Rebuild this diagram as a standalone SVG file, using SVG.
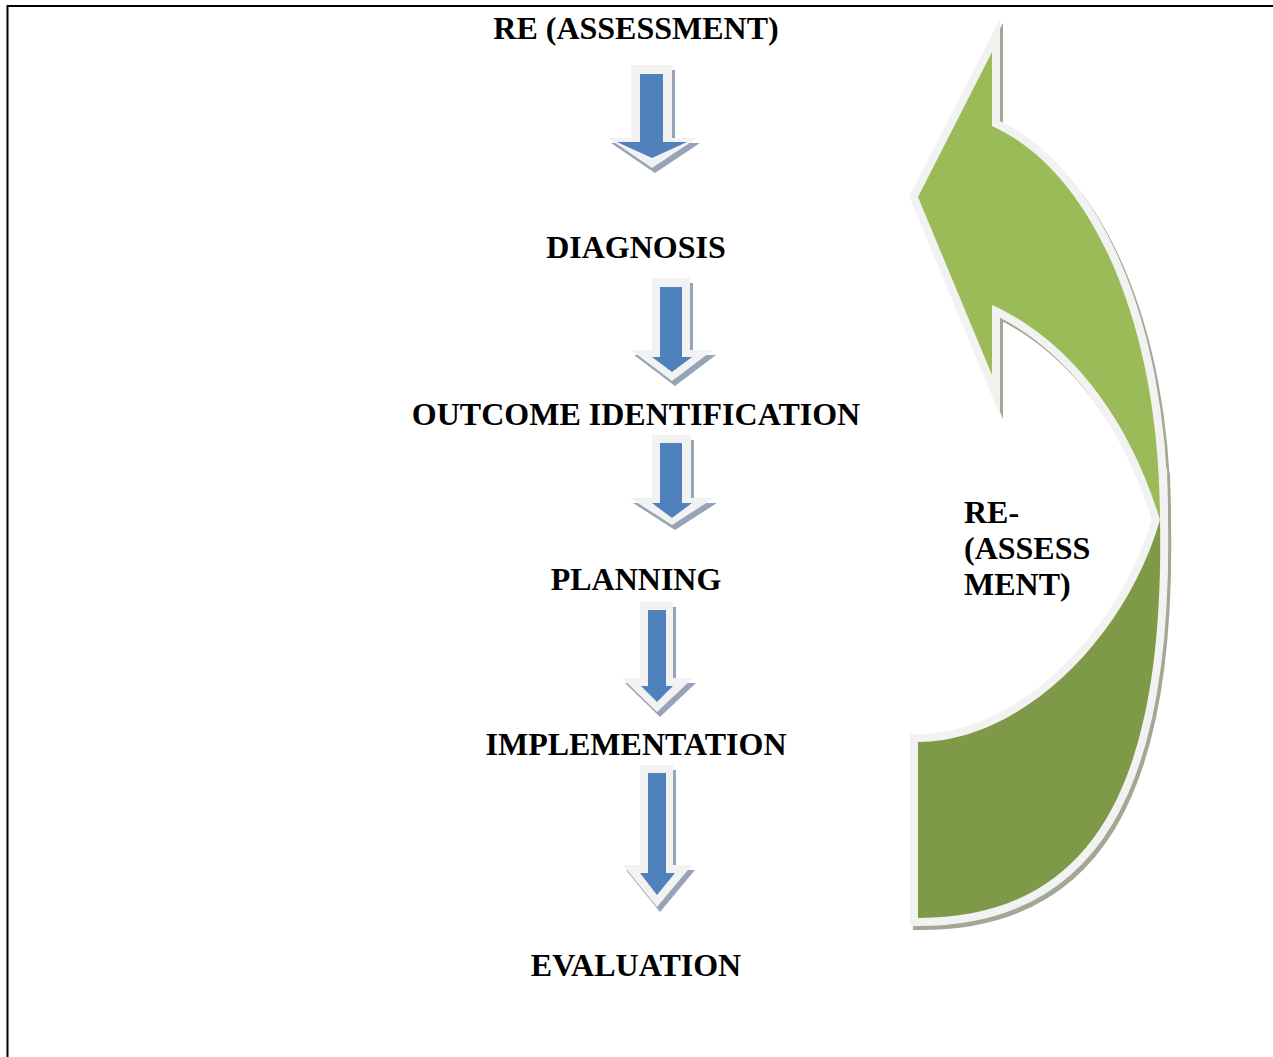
<svg xmlns="http://www.w3.org/2000/svg" width="1273" height="1057" viewBox="0 0 1273 1057">
  <style>
    .lbl { font-family: "Liberation Serif", "Times New Roman", serif; font-weight: bold; font-size: 32px; fill: #000; }
    .c { text-anchor: middle; }
    .shadow { fill: #97a3b6; }
    .rim { fill: #f2f2f2; }
    .blue { fill: #4f81bd; }
    .gshadow { fill: #a2a894; stroke: #a2a894; stroke-width: 16; stroke-linejoin: miter; stroke-miterlimit: 10; }
    .grim { fill: #f2f2f2; stroke: #f2f2f2; stroke-width: 16; stroke-linejoin: miter; stroke-miterlimit: 10; }
  </style>
  <rect width="1273" height="1057" fill="#ffffff"/>
  <path d="M7.5,1057 V6 H1273" fill="none" stroke="#000" stroke-width="2"/>

  <g id="connectors">
    <g id="arrow-1">
      <polygon class="shadow" transform="translate(3,5)" points="631,65 672,65 672,138 697,138 652,168 608,138 631,138"/>
      <polygon class="rim" points="631,65 672,65 672,138 697,138 652,168 608,138 631,138"/>
      <polygon class="blue" points="640,74 663,74 663,142 687,142 652,158 617,142 640,142"/>
    </g>
    <g id="arrow-2">
      <polygon class="shadow" transform="translate(3,5)" points="652,278 690,278 690,350 713,350 672,381 631,350 652,350"/>
      <polygon class="rim" points="652,278 690,278 690,350 713,350 672,381 631,350 652,350"/>
      <polygon class="blue" points="660,287 682,287 682,357 692,357 672,372 652,357 660,357"/>
    </g>
    <g id="arrow-3">
      <polygon class="shadow" transform="translate(3,5)" points="652,435 691,435 691,498 714,498 672,525 630,498 652,498"/>
      <polygon class="rim" points="652,435 691,435 691,498 714,498 672,525 630,498 652,498"/>
      <polygon class="blue" points="660,443 682,443 682,503 692,503 672,518 652,503 660,503"/>
    </g>
    <g id="arrow-4">
      <polygon class="shadow" transform="translate(3,5)" points="640,602 673,602 673,678 693,678 657,712 622,678 640,678"/>
      <polygon class="rim" points="640,602 673,602 673,678 693,678 657,712 622,678 640,678"/>
      <polygon class="blue" points="648,610 666,610 666,686 673,686 657,702 641,686 648,686"/>
    </g>
    <g id="arrow-5">
      <polygon class="shadow" transform="translate(3,5)" points="640,765 673,765 673,865 692,865 657,907 623,865 640,865"/>
      <polygon class="rim" points="640,765 673,765 673,865 692,865 657,907 623,865 640,865"/>
      <polygon class="blue" points="648,773 666,773 666,873 675,873 657,895 640,873 648,873"/>
    </g>
    <g id="reassess-loop">
      <g transform="translate(3,4)">
        <path class="gshadow" d="M992,52 L992,126 C1090,170 1160,320 1160,520 C1130,420 1070,340 992,305 L992,375 L918,197 Z"/>
        <path class="gshadow" d="M1160,520 C1165,790 1090,918 918,918 L918,742 C1020,742 1125,640 1160,520 Z"/>
      </g>
      <path class="grim" d="M992,52 L992,126 C1090,170 1160,320 1160,520 C1130,420 1070,340 992,305 L992,375 L918,197 Z"/>
      <path class="grim" d="M1160,520 C1165,790 1090,918 918,918 L918,742 C1020,742 1125,640 1160,520 Z"/>
      <path fill="#9bbb59" d="M992,52 L992,126 C1090,170 1160,320 1160,520 C1130,420 1070,340 992,305 L992,375 L918,197 Z"/>
      <path fill="#7e9a48" d="M1160,520 C1165,790 1090,918 918,918 L918,742 C1020,742 1125,640 1160,520 Z"/>
    </g>
  </g>

  <g id="node-re-assessment"><text class="lbl c" x="636" y="39">RE (ASSESSMENT)</text></g>
  <g id="node-diagnosis"><text class="lbl c" x="636" y="258">DIAGNOSIS</text></g>
  <g id="node-outcome"><text class="lbl c" x="636" y="425">OUTCOME IDENTIFICATION</text></g>
  <g id="node-planning"><text class="lbl c" x="636" y="590">PLANNING</text></g>
  <g id="node-implementation"><text class="lbl c" x="636" y="755">IMPLEMENTATION</text></g>
  <g id="node-evaluation"><text class="lbl c" x="636" y="976">EVALUATION</text></g>
  <g id="node-reassess-label">
    <text class="lbl" x="964" y="523">RE-</text>
    <text class="lbl" x="964" y="559">(ASSESS</text>
    <text class="lbl" x="964" y="595">MENT)</text>
  </g>
</svg>
